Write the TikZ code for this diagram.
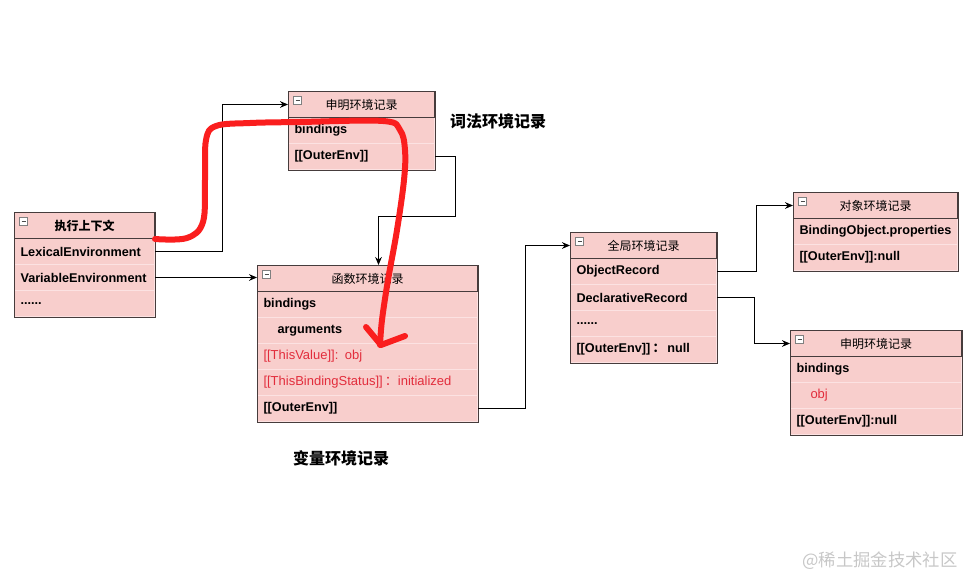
\documentclass[tikz,border=0pt]{standalone}
\usepackage{fontspec}
\setmainfont{Liberation Sans}
\newfontfamily\cjk{Noto Sans CJK SC}
\usetikzlibrary{arrows.meta}
\definecolor{recfill}{RGB}{248,206,204}
\definecolor{recline}{RGB}{70,60,60}
\definecolor{sepline}{RGB}{252,226,226}
\definecolor{attrred}{RGB}{226,45,60}
\definecolor{penred}{RGB}{250,30,30}

\begin{document}
\begin{tikzpicture}[x=0.75pt, y=-0.75pt,
	hdr/.style={draw=recline, fill=recfill, line width=0.75pt, anchor=north west, minimum width=#1, minimum height=19.5pt, inner sep=0pt, font=\cjk\fontsize{9}{11}\selectfont,
		path picture={\draw[gray, fill=white, line width=0.5pt] ([shift={(3.75pt,-3.75pt)}]path picture bounding box.north west) rectangle ++(6pt,-6pt);
			\draw[black!70, line width=0.6pt] ([shift={(5.25pt,-6.75pt)}]path picture bounding box.north west) -- ++(3pt,0);}},
	row/.style={draw=sepline, fill=recfill, line width=0.75pt, anchor=north west, text width=#1, minimum height=19.5pt, inner xsep=4.5pt, inner ysep=0pt, align=left, font=\fontsize{9.5}{12}\selectfont\bfseries},
	attr/.style={row=#1, text=attrred, font=\fontsize{9.75}{12}\selectfont},
	frame/.style={draw=recline, line width=0.75pt},
	link/.style={draw=black, line width=0.75pt, -{Stealth[length=6pt, width=5pt]}},
	pen/.style={draw=penred, line width=4.5pt, line cap=round, line join=round},
	title/.style={font=\cjk\fontsize{12}{14}\selectfont\bfseries}]
				\useasboundingbox (0,0) rectangle (966,578);
				\node [row=96pt] (ctxLex) at (14,238) {LexicalEnvironment};
				\node [row=96pt] (ctxVar) at (14,264) {VariableEnvironment};
				\node [row=96pt] (ctxDots) at (14,290) {......};
				\node [hdr=105pt, font=\cjk\fontsize{9}{11}\selectfont\bfseries] (ctxH) at (14,212) {执行上下文};
				\draw [frame] (ctxH.north west) rectangle (ctxDots.south east);
				\node [row=100.5pt] (lexBind) at (288,117) {bindings};
				\node [row=100.5pt] (lexOuter) at (288,143) {[[OuterEnv]]};
				\node [hdr=109.5pt] (lexH) at (288,91) {申明环境记录};
				\draw [frame] (lexH.north west) rectangle (lexOuter.south east);
				\node [row=156pt] (fnBind) at (257,291) {bindings};
				\node [row=156pt] (fnArgs) at (257,317) {\hspace*{10.5pt}arguments};
				\node [attr=156pt] (fnThis) at (257,343) {[[ThisValue]]: obj};
				\node [attr=156pt] (fnStatus) at (257,369) {[[ThisBindingStatus]]\,{\cjk ：}initialized};
				\node [row=156pt] (fnOuter) at (257,395) {[[OuterEnv]]};
				\node [hdr=165pt] (fnH) at (257,265) {函数环境记录};
				\draw [frame] (fnH.north west) rectangle (fnOuter.south east);
				\node [row=100.5pt] (globObj) at (570,258) {ObjectRecord};
				\node [row=100.5pt] (globDecl) at (570,284) {DeclarativeRecord};
				\node [row=100.5pt] (globDots) at (570,310) {......};
				\node [row=100.5pt] (globOuter) at (570,336) {[[OuterEnv]]\,{\cjk ：}\,null};
				\node [hdr=109.5pt] (globH) at (570,232) {全局环境记录};
				\draw [frame] (globH.north west) rectangle (globOuter.south east);
				\node [row=114pt] (objProps) at (793,218) {BindingObject.properties};
				\node [row=114pt] (objOuter) at (793,244) {[[OuterEnv]]:null};
				\node [hdr=123pt] (objH) at (793,192) {对象环境记录};
				\draw [frame] (objH.north west) rectangle (objOuter.south east);
				\node [row=119.25pt] (declBind) at (790,356) {bindings};
				\node [attr=119.25pt] (declObj) at (790,382) {\hspace*{10.5pt}obj};
				\node [row=119.25pt] (declOuter) at (790,408) {[[OuterEnv]]:null};
				\node [hdr=128.25pt] (declH) at (790,330) {申明环境记录};
				\draw [frame] (declH.north west) rectangle (declOuter.south east);
				\node [title] (lexTitle) at (498,121) {词法环境记录};
				\node [title] (varTitle) at (341,458) {变量环境记录};
				\node [font=\cjk\fontsize{13}{15}\selectfont, text=black!22] (mark) at (880,561) {@稀土掘金技术社区};
				\draw [link] (ctxLex.east) -- ++(67,0) |- (lexH.west);
				\draw [link] (ctxVar.east) -- (ctxVar.east -| fnH.west);
				\draw [link] (lexOuter.east) -- ++(20,0) -- ++(0,60) -| ([xshift=8.25pt]fnH.north);
				\draw [link] (fnOuter.east) -- ++(47,0) |- (globH.west);
				\draw [link] (globObj.east) -- ++(39,0) |- (objH.west);
				\draw [link] (globDecl.east) -- ++(37,0) |- (declH.west);
				\draw [pen] plot [smooth, tension=0.6] coordinates {(ctxH.south east) (187,238) (203,222) (205,180) (206,140) (216,126) (250,123) (300,122) (383,121) (400,130) (405,150) (404,180) (397,230) (388,280) (382,320) (380,345)};
				\draw [pen] (366,327) -- (381,345) -- (405,336);
\end{tikzpicture}
\end{document}
